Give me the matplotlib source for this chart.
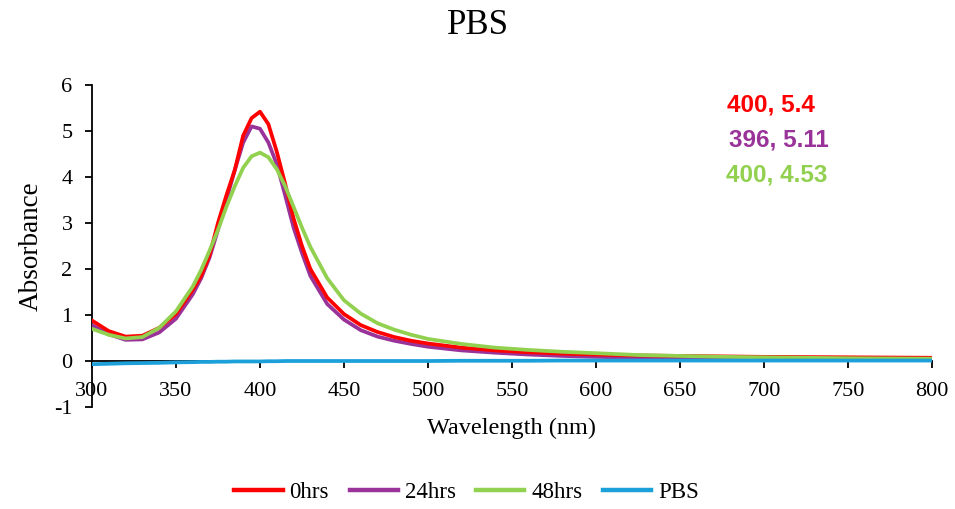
import matplotlib.pyplot as plt

plt.rcParams['axes.unicode_minus'] = False

# Wavelength grid (nm) and absorbance values
wavelength = [300, 310, 320, 330, 340, 350, 360, 365, 370, 375, 380, 385, 390, 395,
              400, 405, 410, 415, 420, 425, 430, 440, 450, 460, 470, 480, 490, 500,
              520, 540, 560, 580, 600, 625, 650, 675, 700, 750, 800]

abs_0hrs = [0.88, 0.65, 0.53, 0.55, 0.72, 1.02, 1.55, 1.85, 2.30, 3.00, 3.60, 4.15, 4.90, 5.28,
            5.42, 5.15, 4.55, 3.85, 3.10, 2.50, 2.00, 1.38, 1.02, 0.78, 0.63, 0.52, 0.44, 0.38,
            0.29, 0.23, 0.19, 0.16, 0.14, 0.12, 0.11, 0.10, 0.09, 0.08, 0.07]

abs_24hrs = [0.78, 0.58, 0.46, 0.47, 0.62, 0.92, 1.45, 1.80, 2.25, 2.85, 3.50, 4.15, 4.75, 5.10,
             5.05, 4.75, 4.28, 3.60, 2.90, 2.35, 1.85, 1.24, 0.90, 0.67, 0.53, 0.44, 0.37, 0.31,
             0.23, 0.18, 0.14, 0.11, 0.09, 0.07, 0.06, 0.05, 0.05, 0.04, 0.04]

abs_48hrs = [0.70, 0.57, 0.49, 0.52, 0.72, 1.08, 1.62, 1.98, 2.40, 2.85, 3.35, 3.80, 4.20, 4.45,
             4.53, 4.43, 4.17, 3.80, 3.35, 2.90, 2.48, 1.80, 1.32, 1.03, 0.82, 0.68, 0.57, 0.48,
             0.37, 0.29, 0.24, 0.20, 0.17, 0.13, 0.11, 0.09, 0.08, 0.06, 0.05]

abs_pbs = [-0.07, -0.06, -0.05, -0.045, -0.04, -0.03, -0.025, -0.02, -0.02, -0.015, -0.015, -0.01, -0.01, -0.01,
           -0.01, -0.005, -0.005, 0.0, 0.0, 0.0, 0.0, 0.0, 0.0, 0.0, 0.0, 0.0, 0.0, 0.0,
           0.005, 0.005, 0.005, 0.01, 0.01, 0.01, 0.01, 0.01, 0.01, 0.01, 0.01]

peak_labels = ["400, 5.4", "396, 5.11", "400, 4.53"]

c_red = '#FF0000'
c_purple = '#993399'
c_green = '#92D050'
c_blue = '#1CA0DA'

serif = 'Liberation Serif'

fig = plt.figure(figsize=(9.55, 5.09), dpi=100)
ax = fig.add_axes([0.0963, 0.2004, 0.8796, 0.6326])

lw = 2.7
ax.plot(wavelength, abs_0hrs, color=c_red, lw=lw, label='0hrs', zorder=4)
ax.plot(wavelength, abs_24hrs, color=c_purple, lw=lw, label='24hrs', zorder=3)
ax.plot(wavelength, abs_48hrs, color=c_green, lw=lw, label='48hrs', zorder=5)
ax.plot(wavelength, abs_pbs, color=c_blue, lw=lw, label='PBS', zorder=6)

ax.set_xlim(300, 800)
ax.set_ylim(-1, 6)
ax.set_xticks(range(300, 801, 50))
ax.set_yticks(range(-1, 7))

# spines: y axis on the left, x axis drawn at y = 0
ax.spines['top'].set_visible(False)
ax.spines['right'].set_visible(False)
ax.spines['bottom'].set_position(('data', 0))
ax.spines['bottom'].set_zorder(2)
for s in ('left', 'bottom'):
    ax.spines[s].set_linewidth(1.3)

ax.tick_params(axis='both', direction='out', length=5, width=1.3, labelsize=16)
ax.tick_params(axis='x', pad=10)
ax.tick_params(axis='y', pad=9)
for lab in ax.get_xticklabels() + ax.get_yticklabels():
    lab.set_fontfamily(serif)

ax.set_xlabel('Wavelength (nm)', fontsize=17.5, family=serif)
ax.xaxis.set_label_coords(0.5, -0.034)
ax.set_ylabel('Absorbance', fontsize=19.5, family=serif)
ax.yaxis.set_label_coords(-0.058, 0.5)

fig.suptitle('PBS', fontsize=25, family=serif, y=0.982)

# peak annotations
ann_font = dict(fontsize=17.5, fontweight='bold', family='Liberation Sans', va='baseline')
ax.text(0.756, 0.919, peak_labels[0], transform=ax.transAxes, color=c_red, **ann_font)
ax.text(0.758, 0.808, peak_labels[1], transform=ax.transAxes, color=c_purple, **ann_font)
ax.text(0.755, 0.699, peak_labels[2], transform=ax.transAxes, color=c_green, **ann_font)

leg = fig.legend(loc='center', bbox_to_anchor=(0.4885, 0.033), ncol=4, frameon=False,
                 prop={'family': serif, 'size': 16.5}, handlelength=2.1,
                 handletextpad=0.3, columnspacing=0.9)
for line in leg.get_lines():
    line.set_linewidth(3.2)

fig.savefig('out.png', dpi=100)
